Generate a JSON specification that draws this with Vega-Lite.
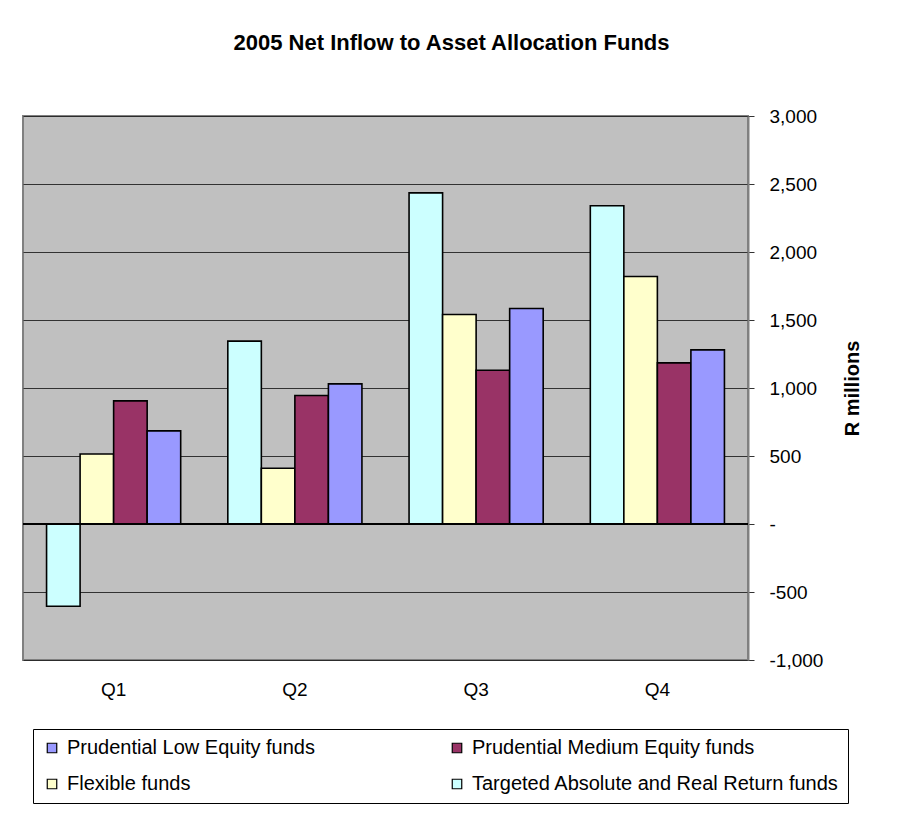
{
  "$schema": "https://vega.github.io/schema/vega-lite/v6.json",
  "width": 725,
  "height": 544,
  "autosize": {"type": "none"},
  "padding": {"left": 23, "top": 116, "right": 150, "bottom": 158},
  "background": "white",
  "title": {
    "text": "2005 Net Inflow to Asset Allocation Funds",
    "font": "Liberation Sans",
    "fontSize": 22,
    "fontWeight": "bold",
    "color": "black",
    "anchor": "middle",
    "offset": 52,
    "dx": 66
  },
  "config": {
    "view": {"fill": "#C0C0C0", "stroke": "#808080", "strokeWidth": 2},
    "font": "Liberation Sans"
  },
  "data": {
    "values": [
      {"quarter": "Q1", "series": "Targeted Absolute and Real Return funds", "value": -605},
      {"quarter": "Q1", "series": "Flexible funds", "value": 515},
      {"quarter": "Q1", "series": "Prudential Medium Equity funds", "value": 905},
      {"quarter": "Q1", "series": "Prudential Low  Equity  funds", "value": 685},
      {"quarter": "Q2", "series": "Targeted Absolute and Real Return funds", "value": 1345},
      {"quarter": "Q2", "series": "Flexible funds", "value": 410},
      {"quarter": "Q2", "series": "Prudential Medium Equity funds", "value": 945},
      {"quarter": "Q2", "series": "Prudential Low  Equity  funds", "value": 1030},
      {"quarter": "Q3", "series": "Targeted Absolute and Real Return funds", "value": 2435},
      {"quarter": "Q3", "series": "Flexible funds", "value": 1540},
      {"quarter": "Q3", "series": "Prudential Medium Equity funds", "value": 1130},
      {"quarter": "Q3", "series": "Prudential Low  Equity  funds", "value": 1585},
      {"quarter": "Q4", "series": "Targeted Absolute and Real Return funds", "value": 2340},
      {"quarter": "Q4", "series": "Flexible funds", "value": 1820},
      {"quarter": "Q4", "series": "Prudential Medium Equity funds", "value": 1185},
      {"quarter": "Q4", "series": "Prudential Low  Equity  funds", "value": 1280}
    ]
  },
  "layer": [
    {
      "mark": {"type": "bar", "stroke": "black", "strokeWidth": 1.6},
      "encoding": {
        "x": {
          "field": "quarter",
          "type": "nominal",
          "scale": {"paddingInner": 0.26, "paddingOuter": 0.13},
          "axis": {
            "title": null,
            "labelAngle": 0,
            "labelFontSize": 19,
            "labelColor": "black",
            "labelPadding": 20,
            "ticks": false,
            "domain": false,
            "grid": false
          }
        },
        "xOffset": {
          "field": "series",
          "type": "nominal",
          "sort": ["Targeted Absolute and Real Return funds", "Flexible funds", "Prudential Medium Equity funds", "Prudential Low  Equity  funds"],
          "scale": {"paddingInner": 0, "paddingOuter": 0}
        },
        "y": {
          "field": "value",
          "type": "quantitative",
          "scale": {"domain": [-1000, 3000], "nice": false},
          "axis": {
            "orient": "right",
            "title": "R millions",
            "titleFontSize": 20,
            "titleFontWeight": "bold",
            "titleColor": "black",
            "titleAngle": -90,
            "titlePadding": 40,
            "values": [-1000, -500, 0, 500, 1000, 1500, 2000, 2500, 3000],
            "labelExpr": "datum.value == 0 ? '-' : replace(format(datum.value, ','), '\u2212', '-')",
            "labelFontSize": 19,
            "labelColor": "black",
            "labelAlign": "left",
            "labelPadding": 15,
            "tickSize": 6,
            "tickColor": "#333333",
            "domainColor": "#808080",
            "domainWidth": 2,
            "gridColor": "#222222",
            "gridWidth": 1,
            "gridOpacity": 0.9
          }
        },
        "color": {
          "field": "series",
          "type": "nominal",
          "scale": {
            "domain": ["Prudential Low  Equity  funds", "Prudential Medium Equity funds", "Flexible funds", "Targeted Absolute and Real Return funds"],
            "range": ["#9999FF", "#993366", "#FFFFCC", "#CCFFFF"]
          },
          "legend": {
            "title": null,
            "orient": "none",
            "legendX": 10,
            "legendY": 613,
            "columns": 2,
            "direction": "horizontal",
            "columnPadding": 120,
            "rowPadding": 16,
            "padding": 9,
            "strokeColor": "black",
            "fillColor": "white",
            "symbolType": "square",
            "symbolSize": 90,
            "symbolStrokeColor": "black",
            "symbolStrokeWidth": 1.2,
            "symbolOpacity": 1,
            "labelFontSize": 20,
            "labelColor": "black",
            "labelOffset": 5,
            "labelLimit": 500
          }
        }
      }
    },
    {
      "mark": {"type": "rule", "color": "black", "strokeWidth": 1},
      "encoding": {"y": {"datum": 0}}
    }
  ]
}
